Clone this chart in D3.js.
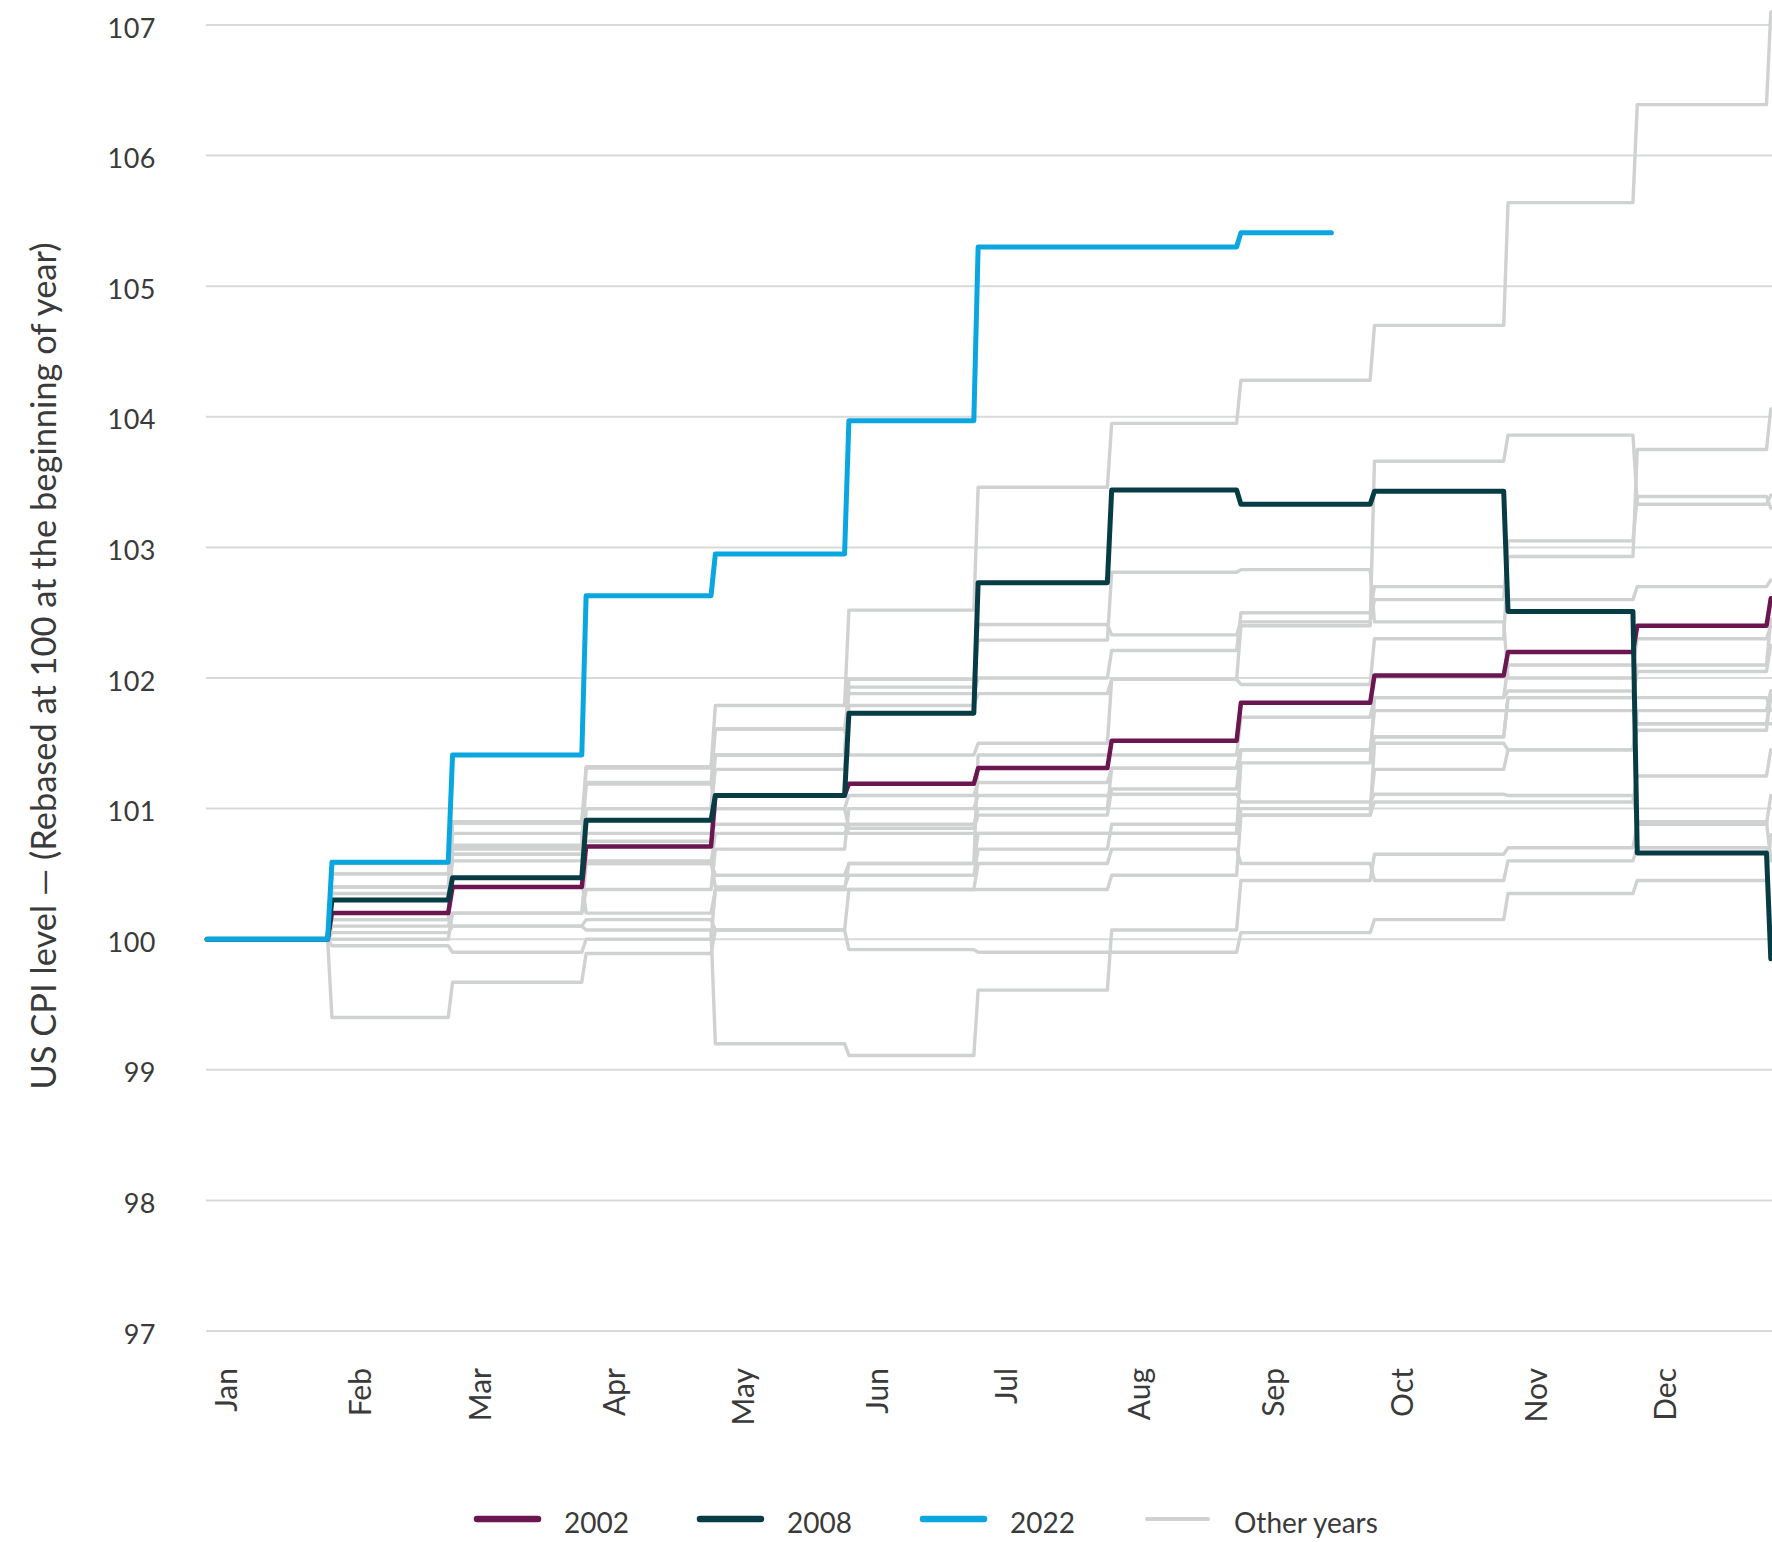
<!DOCTYPE html>
<html><head><meta charset="utf-8">
<script src="https://cdn.jsdelivr.net/npm/d3@7"></script>
<style>
body{margin:0;background:#fff}
svg{display:block}
text{font-family:Lato,"Liberation Sans",sans-serif;fill:#3a3a3a}
</style></head>
<body><svg id="chart" width="1772" height="1542"></svg>
<script>
// ---------- data ----------
const months = ["Jan","Feb","Mar","Apr","May","Jun","Jul","Aug","Sep","Oct","Nov","Dec"];
const yTicks = [97,98,99,100,101,102,103,104,105,106,107];
const baseValue = 100;
// dates (in a reference year) at which each month's reading steps in
const stepDays = ["01-29","02-26","03-29","04-28","05-29","06-28","07-29","08-28","09-28","10-29","11-28","12-29"];
const lastDay2022 = "09-19";

const cpi2002 = [100.2,100.4,100.71,101.1,101.19,101.31,101.52,101.81,102.02,102.2,102.4,102.61];
const cpi2008 = [100.3,100.47,100.91,101.1,101.73,102.73,103.44,103.33,103.43,102.51,100.66,99.85];
const cpi2022 = [100.59,101.41,102.63,102.95,103.97,105.3,105.3,105.41];

const y2003 = [100.3,100.9,101.2,101.0,100.85,100.95,101.15,101.45,101.75,101.75,101.65,101.85];
const y2004 = [100.5,100.89,101.19,101.41,101.93,102.41,102.33,102.43,102.6,103.05,103.39,103.3];
const y2005 = [100.2,100.7,101.19,101.61,101.41,101.5,101.99,102.4,103.66,103.86,103.33,103.4];
const y2006 = [100.58,100.65,101.0,101.41,101.99,102.29,102.81,102.83,102.43,102.0,102.1,102.45];
const y2007 = [100.15,100.47,101.0,101.3,101.79,101.88,101.99,101.95,102.3,102.93,103.75,104.06];
const y2009 = [100.35,100.65,100.58,100.49,100.58,101.41,101.41,101.7,101.85,102.1,102.3,102.4];
const y2010 = [100.15,100.1,100.15,100.07,99.92,99.9,99.9,100.05,100.15,100.35,100.45,100.8];
const y2011 = [100.4,100.89,101.32,101.61,101.88,102.0,102.21,102.5,102.7,102.6,102.7,102.75];
const y2012 = [100.3,100.6,100.81,100.88,100.81,100.81,100.81,101.35,101.85,101.9,101.65,101.65];
const y2013 = [100.2,100.81,100.6,100.4,100.49,100.69,100.88,100.95,101.05,101.05,101.25,101.45];
const y2014 = [100.1,100.2,100.38,100.69,101.0,101.1,101.11,101.05,101.11,101.1,100.9,100.6];
const y2015 = [99.4,99.67,99.89,100.07,100.38,100.58,100.69,100.58,100.45,100.6,100.7,100.65];
const y2016 = [99.95,99.9,100.0,100.38,100.58,100.81,100.81,101.0,101.3,101.45,101.6,101.9];
const y2017 = [100.4,100.47,100.2,100.38,100.38,100.38,100.49,100.95,101.5,101.45,101.75,101.9];
const y2018 = [100.5,100.69,100.75,101.0,101.1,101.2,101.31,101.45,101.55,101.85,101.85,101.75];
const y2019 = [100.0,100.2,100.58,100.81,100.88,101.0,101.31,101.45,101.55,101.85,102.05,102.25];
const y2020 = [100.05,100.1,100.07,99.2,99.11,99.61,100.07,100.45,100.65,100.7,100.88,101.1];
const y2021 = [100.3,100.72,101.31,101.79,102.52,103.46,103.95,104.28,104.7,105.64,106.39,107.1];
const otherYears = [y2003,y2004,y2005,y2006,y2007,y2009,y2010,y2011,y2012,y2013,y2014,y2015,y2016,y2017,y2018,y2019,y2020,y2021];

const legendLabels = ["2002","2008","2022","Other years"];
const legendColors = ["#6b1551","#083c44","#0aa6e0","#d0d1d1"];

// ---------- scales ----------
const refYear = 2021;
const pd = s => d3.timeParse("%Y-%m-%d")(refYear + "-" + s);
const svg = d3.select("#chart");
const x = d3.scaleTime()
  .domain([new Date(refYear,0,1), new Date(refYear+1,0,1)])
  .range([207, 207 + 365*4.308]);
const y = d3.scaleLinear().domain([97,107]).range([1331,25]);
const FONT = "Lato, 'Liberation Sans', sans-serif";

// gridlines
svg.append("g").selectAll("line").data(yTicks).join("line")
  .attr("x1",206).attr("x2",1772)
  .attr("y1",d=>y(d)).attr("y2",d=>y(d))
  .attr("stroke","#d8d9d9").attr("stroke-width",2);

// y axis labels
const ya = svg.append("g").attr("transform","translate(156,0)")
  .call(d3.axisLeft(y).tickValues(yTicks).tickSize(0).tickPadding(0).tickFormat(d3.format("d")));
ya.select(".domain").remove();
ya.selectAll("text").attr("font-size",27).attr("dy","0.45em").attr("letter-spacing",0.5)
  .style("font-family",FONT).attr("fill","#3a3a3a");

// x axis labels
const monthStarts = months.map((m,i)=>new Date(refYear,i,1));
const xa = svg.append("g").attr("transform","translate(0,1368)")
  .call(d3.axisBottom(x).tickValues(monthStarts).tickSize(0).tickFormat((d,i)=>months[i]));
xa.select(".domain").remove();
xa.selectAll("text")
  .attr("y",0).attr("x",0).attr("dy","0.35em")
  .attr("text-anchor","end")
  .attr("transform","translate(19,0) rotate(-90)")
  .attr("font-size",30)
  .style("font-family",FONT).attr("fill","#3a3a3a");

// y title
svg.append("text")
  .attr("transform","translate(42,666) rotate(-90)")
  .attr("text-anchor","middle").attr("dominant-baseline","central")
  .attr("font-size",34)
  .attr("textLength",847).attr("lengthAdjust","spacingAndGlyphs")
  .text("US CPI level — (Rebased at 100 at the beginning of year)");

// ---------- lines ----------
function stepPoints(vals, endDate){
  const p=[[new Date(refYear,0,1), baseValue]];
  let prev=baseValue;
  vals.forEach((v,i)=>{
    const d=pd(stepDays[i]);
    p.push([d,prev]);
    p.push([d3.timeDay.offset(d,1),v]);
    prev=v;
  });
  p.push([endDate, prev]);
  return p;
}
const line = d3.line().x(d=>x(d[0])).y(d=>y(d[1]));
const yearEnd = new Date(refYear+1,0,3);

svg.append("g").selectAll("path").data(otherYears).join("path")
  .attr("d",d=>line(stepPoints(d,yearEnd)))
  .attr("fill","none").attr("stroke",legendColors[3]).attr("stroke-width",3.4)
  .attr("stroke-linejoin","round");

const highlighted = [[cpi2002,legendColors[0],4.5,yearEnd],[cpi2008,legendColors[1],5,yearEnd],[cpi2022,legendColors[2],5,pd(lastDay2022)]];
svg.append("g").selectAll("path").data(highlighted).join("path")
  .attr("d",d=>line(stepPoints(d[0],d[3])))
  .attr("fill","none").attr("stroke",d=>d[1]).attr("stroke-width",d=>d[2])
  .attr("stroke-linejoin","round").attr("stroke-linecap","round");

// ---------- legend ----------
const legX = [477,700,923,1147];
const lg = svg.append("g").selectAll("g").data(legendLabels).join("g")
  .attr("transform",(d,i)=>`translate(${legX[i]},1519)`);
lg.append("line").attr("x1",0).attr("x2",61).attr("y1",0).attr("y2",0)
  .attr("stroke",(d,i)=>legendColors[i]).attr("stroke-width",(d,i)=>i<3?6.5:4)
  .attr("stroke-linecap","round");
lg.append("text").attr("x",87).attr("y",3).attr("dominant-baseline","central")
  .attr("font-size",28).text(d=>d);
</script></body></html>
